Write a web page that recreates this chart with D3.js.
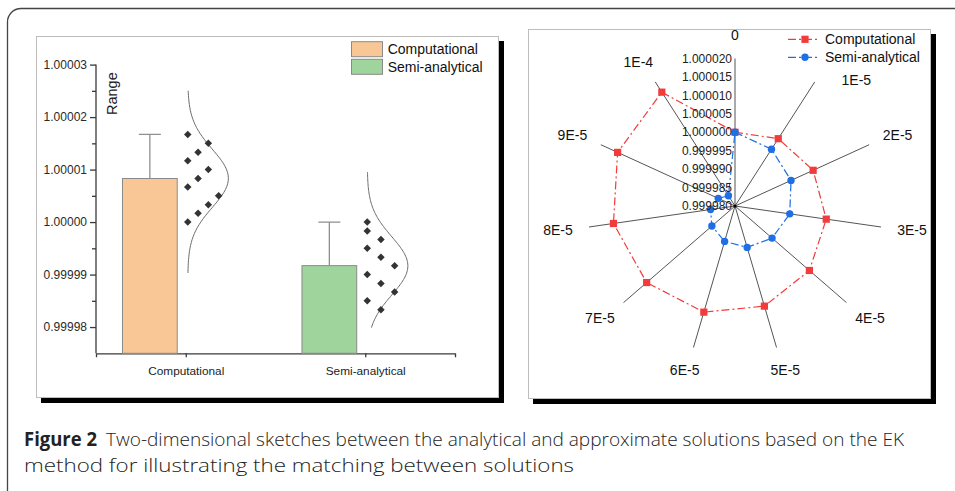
<!DOCTYPE html>
<html>
<head>
<meta charset="utf-8">
<script src="https://cdn.jsdelivr.net/npm/d3@7"></script>
<style>
  html, body { margin: 0; padding: 0; background: #fff; }
  svg { display: block; font-family: "Liberation Sans", Arial, sans-serif; }
</style>
</head>
<body>
<svg id="fig" width="955" height="491"></svg>
<script>
// ---------------- data ----------------
const groups = ["Computational", "Semi-analytical"];
const barMeans = [1.0000083, 0.9999917];
const barErrUp = [0.0000084, 0.0000083];

const compValues = [1.0000000, 1.0000017, 1.0000033, 1.0000050, 1.0000067, 1.0000083,
                    1.0000100, 1.0000117, 1.0000133, 1.0000150, 1.0000167];
const semiValues = [1.0000000, 0.9999983, 0.9999967, 0.9999950, 0.9999933, 0.9999917,
                    0.9999900, 0.9999883, 0.9999867, 0.9999850, 0.9999833];

// extent over which each fitted normal curve is drawn
const curveRanges = [[0.9999903, 1.0000250], [0.9999799, 1.0000095]];

const barTicks = [0.99998, 0.99999, 1.00000, 1.00001, 1.00002, 1.00003];

const radarAxes = ["0", "1E-5", "2E-5", "3E-5", "4E-5", "5E-5", "6E-5", "7E-5", "8E-5", "9E-5", "1E-4"];
const radarTicks = [0.999980, 0.999985, 0.999990, 0.999995, 1.000000, 1.000005, 1.000010, 1.000015, 1.000020];

// swarm layout of the raw points beside each bar
const swarmCols = [[0, 1, 2, 3, 0, 1, 2, 0, 1, 2, 0], [0, 0, 1, 0, 1, 2, 0, 1, 2, 0, 1]];
const swarmGap = [10.3, 13.7];

const groupValues = [compValues, semiValues];
const barFills = ["#f9c795", "#9fd49c"];
const red = "#f23b3b", blue = "#1e6fe4";

const svg = d3.select("#fig");

// ---------------- outer frame ----------------
svg.append("path")
  .attr("d", "M7.5,491 V22 A13.5,13.5 0 0 1 21,8.5 H955")
  .attr("fill", "none").attr("stroke", "#444").attr("stroke-width", 1.3);

// panel with drop shadow
function panel(x, y, w, h) {
  svg.append("rect").attr("x", x + 5).attr("y", y + 5).attr("width", w + 1).attr("height", h + 1).attr("fill", "#000");
  svg.append("rect").attr("x", x + 0.5).attr("y", y + 0.5).attr("width", w).attr("height", h)
    .attr("fill", "#fff").attr("stroke", "#bdbdbd").attr("stroke-width", 1);
}
panel(36, 36, 462, 361);
panel(528, 29, 402, 369);

// ---------------- left: bar + distribution chart ----------------
const L = svg.append("g");
const y = d3.scaleLinear().domain([0.999975, 1.00003]).range([353.3, 64.6]);
const x = d3.scalePoint().domain(groups).range([96, 455]).padding(0.5);
const step = x.step();

const minorTicks = d3.pairs(barTicks).map(([a, b]) => (a + b) / 2);

const yAxis = L.append("g").attr("transform", "translate(96,0)")
  .call(d3.axisLeft(y).tickValues(barTicks).tickFormat(d3.format(".5f")).tickSize(6).tickPadding(3));
L.append("g").attr("transform", "translate(96,0)")
  .call(d3.axisLeft(y).tickValues(minorTicks).tickFormat("").tickSize(4))
  .select(".domain").remove();
yAxis.select(".domain").attr("d", `M0,${y(0.999975)}V${y(1.00003)}`);
yAxis.selectAll("text").attr("font-size", 12).attr("fill", "#2a2a2a").attr("font-family", "Liberation Sans, Arial, sans-serif");

const xAxis = L.append("g").attr("transform", `translate(0,${y(0.999975)})`)
  .call(d3.axisBottom(x).tickSize(4).tickPadding(9));
xAxis.selectAll("text").attr("font-size", 11.8).attr("fill", "#222").attr("font-family", "Liberation Sans, Arial, sans-serif");

L.selectAll(".domain, .tick line").attr("stroke", "#3a3a3a").attr("stroke-width", 1.3);

// axis title
L.append("text").attr("transform", "translate(117,115) rotate(-90)")
  .attr("font-size", 14.5).attr("fill", "#222").text("Range");

// bars
const barW = 0.305 * step, barOff = -0.2 * step;
groups.forEach((g, i) => {
  const cx = x(g) + barOff;
  L.append("rect")
    .attr("x", cx - barW / 2).attr("y", y(barMeans[i]))
    .attr("width", barW).attr("height", y(0.999975) - y(barMeans[i]))
    .attr("fill", barFills[i]).attr("stroke", "#8a8a8a").attr("stroke-width", 1);
  const top = y(barMeans[i] + barErrUp[i]);
  L.append("path")
    .attr("d", `M${cx},${y(barMeans[i])}V${top}M${cx - 11},${top}H${cx + 11}`)
    .attr("stroke", "#8f8f8f").attr("stroke-width", 1.3).attr("fill", "none");

  // fitted normal curve
  const vals = groupValues[i];
  const mu = d3.mean(vals), sd = d3.deviation(vals);
  const base = x(g) + 2, amp = 40.6;
  const [lo, hi] = curveRanges[i];
  const pts = d3.range(0, 121).map(k => {
    const v = lo + (hi - lo) * k / 120;
    return [base + amp * Math.exp(-((v - mu) ** 2) / (2 * sd * sd)), y(v)];
  });
  L.append("path").attr("d", d3.line()(pts))
    .attr("fill", "none").attr("stroke", "#6a6a6a").attr("stroke-width", 1);

  // raw points
  L.selectAll(null).data(vals).enter().append("path")
    .attr("d", d3.symbol(d3.symbolSquare, 28)())
    .attr("transform", (v, k) => `translate(${base + swarmCols[i][k] * swarmGap[i]},${y(v)}) rotate(45)`)
    .attr("fill", "#333");
});

// legend
groups.forEach((g, i) => {
  const ly = 41.7 + i * 17.6;
  L.append("rect").attr("x", 351.5).attr("y", ly).attr("width", 31).attr("height", 15)
    .attr("fill", barFills[i]).attr("stroke", "#8a8a8a");
  L.append("text").attr("x", 387.7).attr("y", ly + 12.6).attr("font-size", 14).attr("fill", "#111").text(g);
});

// ---------------- right: radar chart ----------------
const R = svg.append("g").attr("transform", "translate(735,206)");
const rScale = d3.scaleLinear().domain([0.99998, 1.00002]).range([0, 147.5]);
const angle = d3.scalePoint().domain(radarAxes).range([0, 2 * Math.PI * 10 / 11]);
const rMax = rScale(1.00002);

R.selectAll(".spoke").data(radarAxes).enter().append("line")
  .attr("x1", 0).attr("y1", 0)
  .attr("x2", d => rMax * Math.sin(angle(d)))
  .attr("y2", d => -rMax * Math.cos(angle(d)))
  .attr("stroke", "#555").attr("stroke-width", 1);
R.append("circle").attr("r", 1.6).attr("fill", "#000");

const radial = d3.lineRadial()
  .angle((d, i) => angle(radarAxes[i]))
  .radius(d => rScale(d))
  .curve(d3.curveLinearClosed);

const series = [
  { name: "Computational", values: compValues, color: red, marker: "square" },
  { name: "Semi-analytical", values: semiValues, color: blue, marker: "circle" }
];

function drawMarker(sel, s) {
  if (s.marker === "square") {
    sel.append("rect").attr("x", -3.6).attr("y", -3.6).attr("width", 7.2).attr("height", 7.2).attr("fill", s.color);
  } else {
    sel.append("circle").attr("r", 3.7).attr("fill", s.color);
  }
}

series.forEach(s => {
  R.append("path").attr("d", radial(s.values))
    .attr("fill", "none").attr("stroke", s.color).attr("stroke-width", 1.2)
    .attr("stroke-dasharray", "8,3,2,3");
  s.values.forEach((v, i) => {
    const a = angle(radarAxes[i]);
    const g = R.append("g").attr("transform", `translate(${rScale(v) * Math.sin(a)},${-rScale(v) * Math.cos(a)})`);
    drawMarker(g, s);
  });
});

// value labels along the first spoke
R.selectAll(".vlab").data(radarTicks).enter().append("text")
  .attr("x", -3).attr("y", d => -rScale(d))
  .attr("dy", "0.35em").attr("text-anchor", "end")
  .attr("font-size", 12).attr("fill", "#222")
  .text(d => d3.format(".6f")(d));

// legend
const legBox = { x0: 785, y0: 30, x1: 925, y1: 65 };
series.forEach((s, i) => {
  const ly = 39.3 + i * 18;
  const g = svg.append("g");
  g.append("line").attr("x1", 788).attr("x2", 819).attr("y1", ly).attr("y2", ly)
    .attr("stroke", s.color).attr("stroke-width", 1.2).attr("stroke-dasharray", "8,3,2,3");
  const m = g.append("g").attr("transform", `translate(805,${ly})`);
  drawMarker(m, s);
  g.append("text").attr("x", 825).attr("y", ly + 5).attr("font-size", 14).attr("fill", "#111").text(s.name);
});

// axis labels around the radar, nudged clockwise if they would collide with the legend
const labR = 164, labH = 14;
radarAxes.forEach(d => {
  const t = R.append("text").attr("font-size", 14).attr("fill", "#111")
    .attr("text-anchor", "middle").attr("dy", "0.35em").text(d);
  const w = t.node().getComputedTextLength();
  let a = angle(d);
  const place = ang => {
    const sx = Math.sin(ang), cy = -Math.cos(ang);
    return [labR * sx + sx * w / 2, labR * cy + cy * labH / 2];
  };
  const hits = ([px, py]) => {
    const gx = 735 + px, gy = 206 + py, pad = 8;
    return gx + w / 2 > legBox.x0 && gx - w / 2 < legBox.x1 &&
           gy + labH / 2 > legBox.y0 && gy - labH / 2 < legBox.y1 + pad;
  };
  let p = place(a);
  while (hits(p)) { a += Math.PI / 360; p = place(a); }
  t.attr("x", p[0]).attr("y", p[1]);
});

// ---------------- caption ----------------
const cap = svg.append("g").attr("font-family", "'Open Sans', 'Noto Sans', sans-serif").attr("fill", "#222");
cap.append("text").attr("x", 24).attr("y", 446).attr("font-size", 19).attr("font-weight", 700)
  .attr("textLength", 73).attr("lengthAdjust", "spacingAndGlyphs").text("Figure 2");
cap.append("text").attr("x", 106).attr("y", 446).attr("font-size", 19).attr("font-weight", 300)
  .attr("textLength", 798).attr("lengthAdjust", "spacingAndGlyphs")
  .text("Two-dimensional sketches between the analytical and approximate solutions based on the EK");
cap.append("text").attr("x", 24).attr("y", 472).attr("font-size", 19).attr("font-weight", 300)
  .attr("textLength", 550).attr("lengthAdjust", "spacingAndGlyphs")
  .text("method for illustrating the matching between solutions");
</script>
</body>
</html>
